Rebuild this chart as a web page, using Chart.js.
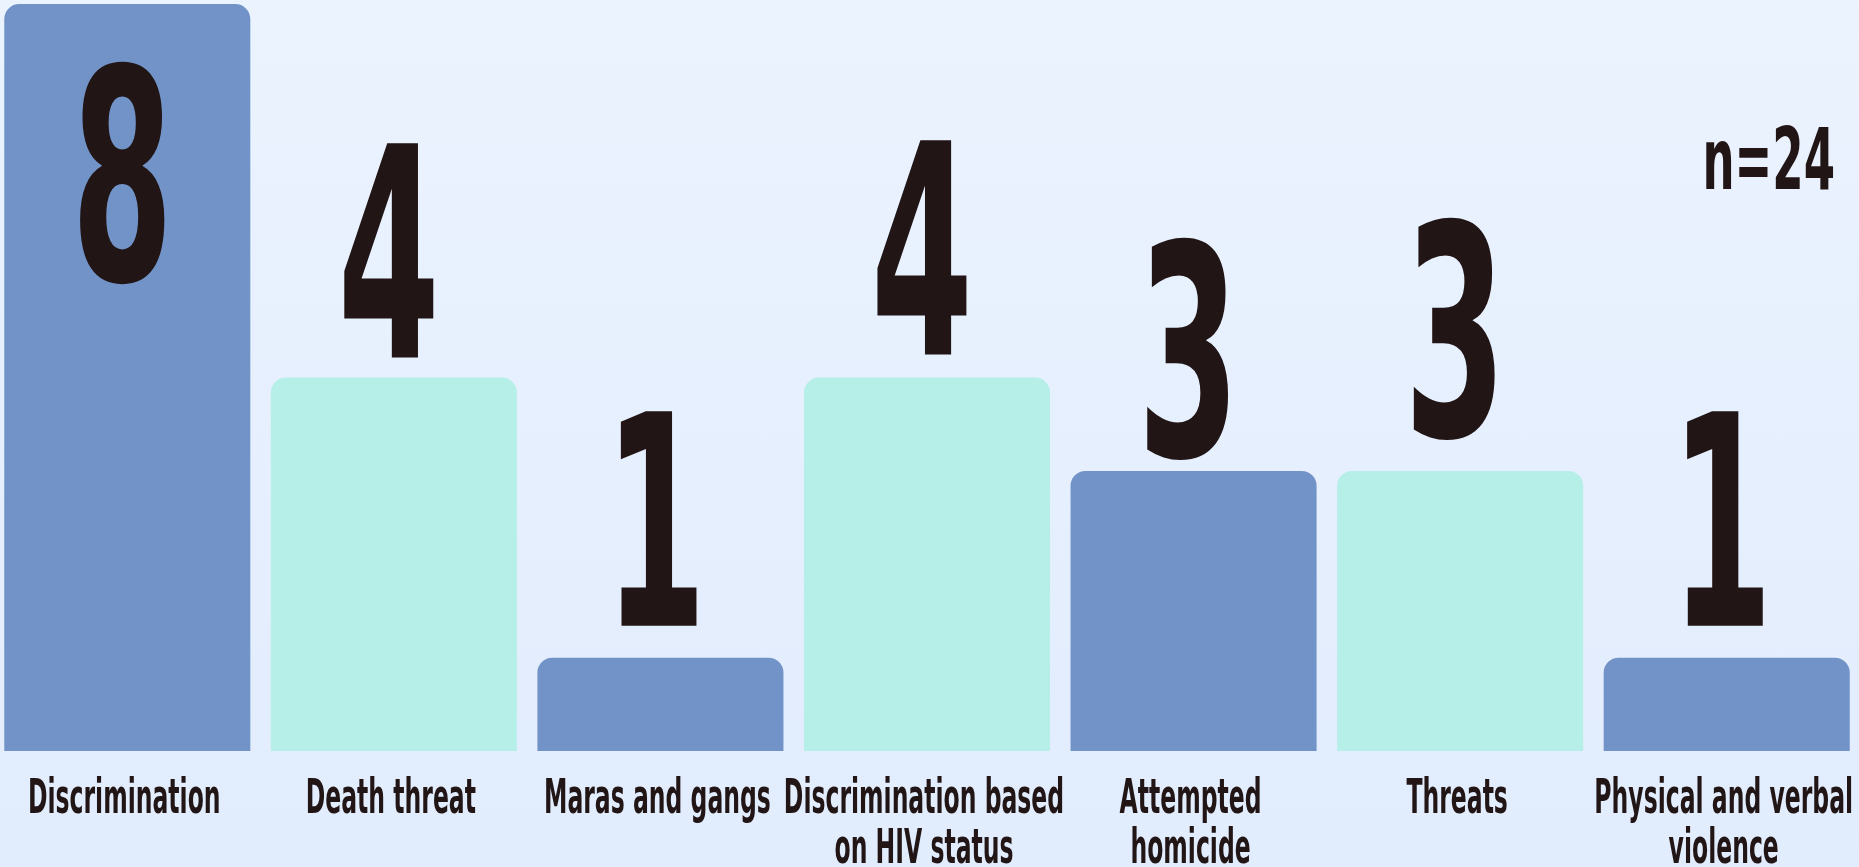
<!DOCTYPE html>
<html>
<head>
<meta charset="utf-8">
<script src="https://cdn.jsdelivr.net/npm/chart.js@4"></script>
<style>
  html, body { margin: 0; padding: 0; overflow: hidden; }
  body {
    width: 1859px; height: 867px; position: relative;
    background: linear-gradient(to bottom, #ebf3fe 0%, #e1ecfd 100%);
  }
  #incidentChart { position: absolute; left: -6px; top: 0; }
</style>
</head>
<body>
<canvas id="incidentChart" width="1866" height="867"></canvas>
<script>
// data
const categories = [
    ['Discrimination'],
    ['Death threat'],
    ['Maras and gangs'],
    ['Discrimination based', 'on HIV status'],
    ['Attempted', 'homicide'],
    ['Threats'],
    ['Physical and verbal', 'violence']
];
const cases = [8, 4, 1, 4, 3, 3, 1];
const totalLabel = 'n=24';

const barColors = ['#7293c7', '#b5efe8', '#7293c7', '#b5efe8', '#7293c7', '#b5efe8', '#7293c7'];
// gap between number baseline and bar top (negative = drawn inside the bar)
const labelGap = [-276, 20, 32, 23, 15, 35, 32];

const inkColor = '#211515';
const squeeze = 0.5; // fake a condensed face

const labelsPlugin = {
    id: 'condensedLabels',
    afterDatasetsDraw(chart) {
        const ctx = chart.ctx;
        const meta = chart.getDatasetMeta(0);
        const xScale = chart.scales.x;
        const area = chart.chartArea;
        ctx.save();
        ctx.fillStyle = inkColor;
        ctx.textAlign = 'center';
        ctx.textBaseline = 'alphabetic';

        // big value numbers
        ctx.font = 'bold 294px "DejaVu Sans"';
        meta.data.forEach((bar, i) => {
            const y = bar.y - labelGap[i];
            ctx.save();
            ctx.translate(bar.x - 5, y);
            ctx.scale(squeeze, 1);
            ctx.fillText(String(cases[i]), 0, 0);
            ctx.restore();
        });

        // category labels under the bars
        ctx.font = 'bold 48px "DejaVu Sans"';
        categories.forEach((lines, i) => {
            const x = xScale.getPixelForValue(i);
            lines.forEach((line, j) => {
                ctx.save();
                ctx.translate(x - 3, area.bottom + 62 + j * 50);
                ctx.scale(0.49, 1);
                ctx.fillText(line, 0, 0);
                ctx.restore();
            });
        });

        // sample size note
        ctx.font = 'bold 85px "DejaVu Sans"';
        ctx.textAlign = 'right';
        ctx.save();
        ctx.translate(1841, 189);
        ctx.scale(0.53, 1);
        ctx.fillText(totalLabel, 0, 0);
        ctx.restore();

        ctx.restore();
    }
};

function drawIncidentChart() {
    const ctx = document.getElementById('incidentChart').getContext('2d');
    new Chart(ctx, {
        type: 'bar',
        data: {
            labels: categories,
            datasets: [{
                data: cases,
                backgroundColor: barColors,
                borderWidth: 0,
                borderRadius: { topLeft: 15, topRight: 15, bottomLeft: 0, bottomRight: 0 },
                borderSkipped: 'bottom',
                barPercentage: 0.923,
                categoryPercentage: 1
            }]
        },
        options: {
            responsive: false,
            animation: false,
            layout: { padding: { top: 4, bottom: 116, left: 0, right: 0 } },
            scales: {
                x: { display: false },
                y: { display: false, min: 0, max: 8 }
            },
            plugins: {
                legend: { display: false },
                tooltip: { enabled: false }
            }
        },
        plugins: [labelsPlugin]
    });
}

document.addEventListener('DOMContentLoaded', () => {
    drawIncidentChart();
});
</script>
</body>
</html>
